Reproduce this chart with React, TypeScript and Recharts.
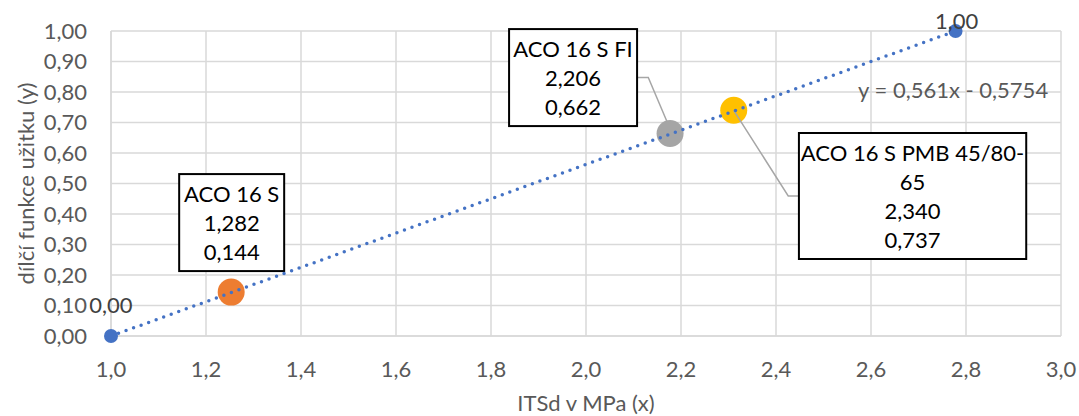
import { ScatterChart, Scatter, XAxis, YAxis, CartesianGrid } from "recharts";

// axis ticks
const xTicks = [1.0, 1.2, 1.4, 1.6, 1.8, 2.0, 2.2, 2.4, 2.6, 2.8, 3.0];
const yTicks = [0, 0.1, 0.2, 0.3, 0.4, 0.5, 0.6, 0.7, 0.8, 0.9, 1.0];
const xTitle = "ITSd v MPa (x)";
const yTitle = "dílčí funkce užitku (y)";

// ideal line (0 -> 1) with its trendline
const idealX = [1.0, 2.778];
const idealY = [0, 1];
const idealLabels = ["0,00", "1,00"];
const trendEquation = "y = 0,561x - 0,5754";

// mixtures
const mixNames = [["ACO 16 S"], ["ACO 16 S FI"], ["ACO 16 S PMB 45/80-", "65"]];
const mixX = [1.253, 2.177, 2.311];
const mixY = [0.144, 0.664, 0.74];
const mixXLabels = ["1,282", "2,206", "2,340"];
const mixYLabels = ["0,144", "0,662", "0,737"];
const mixColors = ["#ed7d31", "#a5a5a5", "#ffc000"];

const FONT = "Lato, 'Liberation Sans', sans-serif";
const FS = 22;
const LINE_H = 29;
const BLUE = "#4472c4";

// callout boxes, relative to the point centre
const callouts = [
  { left: -52, top: -118, width: 105, leader: null as number[][] | null },
  { left: -161, top: -104.4, width: 128, leader: [[-33, -56], [-21.8, -56], [-2.7, -11]] },
  { left: 65.2, top: 22.7, width: 227.3, leader: [[0, 0], [54.5, 85.7], [65.2, 85.7]] },
];
const idealLabelOffset = [
  { dx: 0, dy: -32 },
  { dx: 1, dy: -11 },
];

const fmt = (v: number, d: number) => v.toFixed(d).replace(".", ",");

const idealData = idealX.map((x, i) => ({ x, y: idealY[i], label: idealLabels[i], i }));

const AxisTitle = (props: any) => {
  const vb = props.viewBox || {};
  if (props.vertical) {
    const cx = 25;
    const cy = vb.y + vb.height / 2;
    return (
      <text x={cx} y={cy} transform={`rotate(-90 ${cx} ${cy})`} textAnchor="middle"
        dominantBaseline="central" fill="#595959" fontSize={FS} fontFamily={FONT}>
        {props.text}
      </text>
    );
  }
  return (
    <text x={vb.x + vb.width / 2} y={402} textAnchor="middle" dominantBaseline="central"
      fill="#595959" fontSize={FS} fontFamily={FONT}>
      {props.text}
    </text>
  );
};

const mixShape = (i: number) => (props: any) => {
  const { cx, cy } = props;
  const c = callouts[i];
  const lines = [...mixNames[i], mixXLabels[i], mixYLabels[i]];
  const h = lines.length * LINE_H + 10;
  const bx = cx + c.left;
  const by = cy + c.top;
  return (
    <g>
      <circle cx={cx} cy={cy} r={13.5} fill={mixColors[i]} />
      {c.leader && (
        <polyline
          points={c.leader.map((p) => `${cx + p[0]},${cy + p[1]}`).join(" ")}
          fill="none" stroke="#a6a6a6" strokeWidth={1.5} />
      )}
      <rect x={bx} y={by} width={c.width} height={h} fill="#fff" stroke="#000" strokeWidth={2} />
      {lines.map((t, k) => (
        <text key={k} x={bx + c.width / 2} y={by + 5 + LINE_H / 2 + k * LINE_H}
          textAnchor="middle" dominantBaseline="central" fill="#000" fontSize={FS} fontFamily={FONT}>
          {t}
        </text>
      ))}
    </g>
  );
};

const idealShape = (props: any) => {
  const { cx, cy, payload } = props;
  const o = idealLabelOffset[payload.i];
  return (
    <g>
      <circle cx={cx} cy={cy} r={7} fill={BLUE} />
      <text x={cx + o.dx} y={cy + o.dy} textAnchor="middle" dominantBaseline="central"
        fill="#404040" fontSize={FS} fontFamily={FONT}>
        {payload.label}
      </text>
      {payload.i === 1 && (
        <text x={cx + 92.6} y={cy + 58.3} textAnchor="end" dominantBaseline="central"
          fill="#595959" fontSize={FS} fontFamily={FONT}>
          {trendEquation}
        </text>
      )}
    </g>
  );
};

export default function App() {
  return (
    <div style={{ position: "absolute", left: 0, top: 0, width: 1079, height: 416, background: "#fff" }}>
      <ScatterChart width={1079} height={416} margin={{ top: 31, right: 18, bottom: 0, left: 0 }}>
        <CartesianGrid stroke="#d9d9d9" strokeWidth={1.5} />
        <XAxis
          type="number"
          dataKey="x"
          domain={[1, 3]}
          ticks={xTicks}
          interval={0}
          height={80}
          tickFormatter={(v) => fmt(v, 1)}
          tickLine={false}
          axisLine={{ stroke: "#d9d9d9", strokeWidth: 1.5 }}
          tickMargin={19}
          tick={{ fill: "#595959", fontSize: FS, fontFamily: FONT }}
          label={<AxisTitle text={xTitle} />}
        />
        <YAxis
          type="number"
          dataKey="y"
          domain={[0, 1]}
          ticks={yTicks}
          interval={0}
          width={111}
          tickFormatter={(v) => fmt(v, 2)}
          tickLine={false}
          axisLine={{ stroke: "#d9d9d9", strokeWidth: 1.5 }}
          tickMargin={18}
          tick={{ fill: "#595959", fontSize: FS, fontFamily: FONT }}
          label={<AxisTitle vertical text={yTitle} />}
        />
        {mixX.map((x, i) => (
          <Scatter
            key={i}
            name={mixNames[i].join("")}
            data={[{ x, y: mixY[i] }]}
            fill={mixColors[i]}
            shape={mixShape(i)}
            isAnimationActive={false}
          />
        ))}
        <Scatter
          name="ideal"
          data={idealData}
          fill={BLUE}
          line={{ stroke: BLUE, strokeWidth: 3.5, strokeDasharray: "0 8", strokeLinecap: "round" }}
          shape={idealShape}
          isAnimationActive={false}
        />
      </ScatterChart>
    </div>
  );
}
